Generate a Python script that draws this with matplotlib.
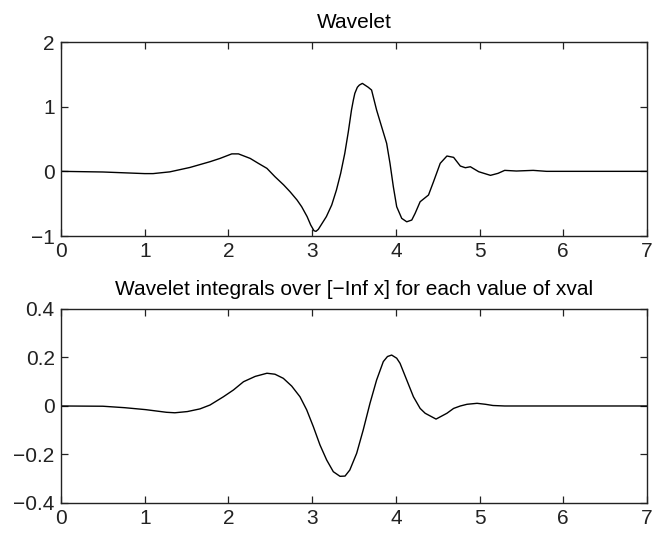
import matplotlib
matplotlib.use("Agg")
import matplotlib.pyplot as plt

# Top panel: wavelet values
wav_x = [0.0, 0.5, 1.0, 1.1, 1.3, 1.54, 1.78, 1.90, 2.04, 2.12, 2.26, 2.357, 2.46,
         2.556, 2.66, 2.736, 2.82, 2.875, 2.94, 2.983, 3.022, 3.046, 3.074, 3.17,
         3.234, 3.29, 3.341, 3.39, 3.432, 3.47, 3.492, 3.51, 3.54, 3.564, 3.60,
         3.67, 3.71, 3.77, 3.83, 3.89, 3.93, 3.97, 4.01, 4.07, 4.13, 4.19, 4.23,
         4.29, 4.39, 4.45, 4.53, 4.61, 4.69, 4.77, 4.83, 4.89, 4.99, 5.13, 5.22,
         5.30, 5.44, 5.64, 5.80, 7.0]
wav_y = [0.0, -0.01, -0.035, -0.035, -0.008, 0.06, 0.149, 0.20, 0.27, 0.27, 0.20,
         0.124, 0.046, -0.083, -0.21, -0.315, -0.444, -0.547, -0.70, -0.83, -0.918,
         -0.928, -0.897, -0.70, -0.52, -0.29, -0.03, 0.278, 0.61, 0.948, 1.10,
         1.206, 1.30, 1.334, 1.36, 1.30, 1.257, 0.948, 0.69, 0.433, 0.124, -0.238,
         -0.547, -0.727, -0.78, -0.753, -0.65, -0.47, -0.366, -0.16, 0.124, 0.237,
         0.216, 0.082, 0.056, 0.071, -0.006, -0.062, -0.031, 0.015, 0.005, 0.015,
         0.0, 0.0]

# Bottom panel: wavelet integrals
int_x = [0.0, 0.5, 0.76, 1.01, 1.26, 1.36, 1.51, 1.66, 1.78, 1.94, 2.06, 2.18,
         2.32, 2.46, 2.556, 2.656, 2.756, 2.855, 2.935, 3.014, 3.094, 3.174, 3.253,
         3.333, 3.393, 3.45, 3.532, 3.61, 3.691, 3.77, 3.85, 3.90, 3.95, 4.01, 4.05,
         4.13, 4.21, 4.29, 4.35, 4.48, 4.61, 4.69, 4.77, 4.85, 4.97, 5.07, 5.16,
         5.3, 7.0]
int_y = [0.0, -0.001, -0.007, -0.015, -0.026, -0.028, -0.023, -0.012, 0.004, 0.038,
         0.066, 0.10, 0.122, 0.135, 0.131, 0.114, 0.082, 0.038, -0.016, -0.085,
         -0.161, -0.223, -0.271, -0.29, -0.289, -0.264, -0.195, -0.099, 0.011,
         0.107, 0.183, 0.204, 0.21, 0.197, 0.176, 0.107, 0.038, -0.01, -0.03,
         -0.054, -0.03, -0.01, 0.0, 0.007, 0.011, 0.007, 0.002, 0.0, 0.0]

x_ticks = [0, 1, 2, 3, 4, 5, 6, 7]
top_yticks = [-1, 0, 1, 2]
top_ylabels = ["\u22121", "0", "1", "2"]
bot_yticks = [-0.4, -0.2, 0, 0.2, 0.4]
bot_ylabels = ["\u22120.4", "\u22120.2", "0", "0.2", "0.4"]
top_title = "Wavelet"
bot_title = "Wavelet integrals over [\u2212Inf x] for each value of xval"

plt.rcParams['font.family'] = ['Liberation Sans', 'DejaVu Sans']
plt.rcParams['font.size'] = 15

fig = plt.figure(figsize=(6.55, 5.33), dpi=100)
ax1 = fig.add_axes([0.0931, 0.5572, 0.8947, 0.364])
ax2 = fig.add_axes([0.0931, 0.0563, 0.8947, 0.364])

ax1.plot(wav_x, wav_y, color='black', lw=1.0, solid_joinstyle='round')
ax1.set_xlim(0, 7)
ax1.set_ylim(-1, 2)
ax1.set_xticks(x_ticks)
ax1.set_yticks(top_yticks)
ax1.set_yticklabels(top_ylabels)
ax1.set_title(top_title, fontsize=15, pad=10)

ax2.plot(int_x, int_y, color='black', lw=1.0, solid_joinstyle='round')
ax2.set_xlim(0, 7)
ax2.set_ylim(-0.4, 0.4)
ax2.set_xticks(x_ticks)
ax2.set_yticks(bot_yticks)
ax2.set_yticklabels(bot_ylabels)
ax2.set_title(bot_title, fontsize=15, pad=10)

for ax in (ax1, ax2):
    ax.tick_params(direction='in', top=True, right=True, length=5, width=0.9,
                   labelsize=15, pad=4.5, colors='#222222', labelcolor='#222222')
    for s in ax.spines.values():
        s.set_linewidth(1.0)
        s.set_color('#222222')

fig.savefig("out.png", dpi=100)
